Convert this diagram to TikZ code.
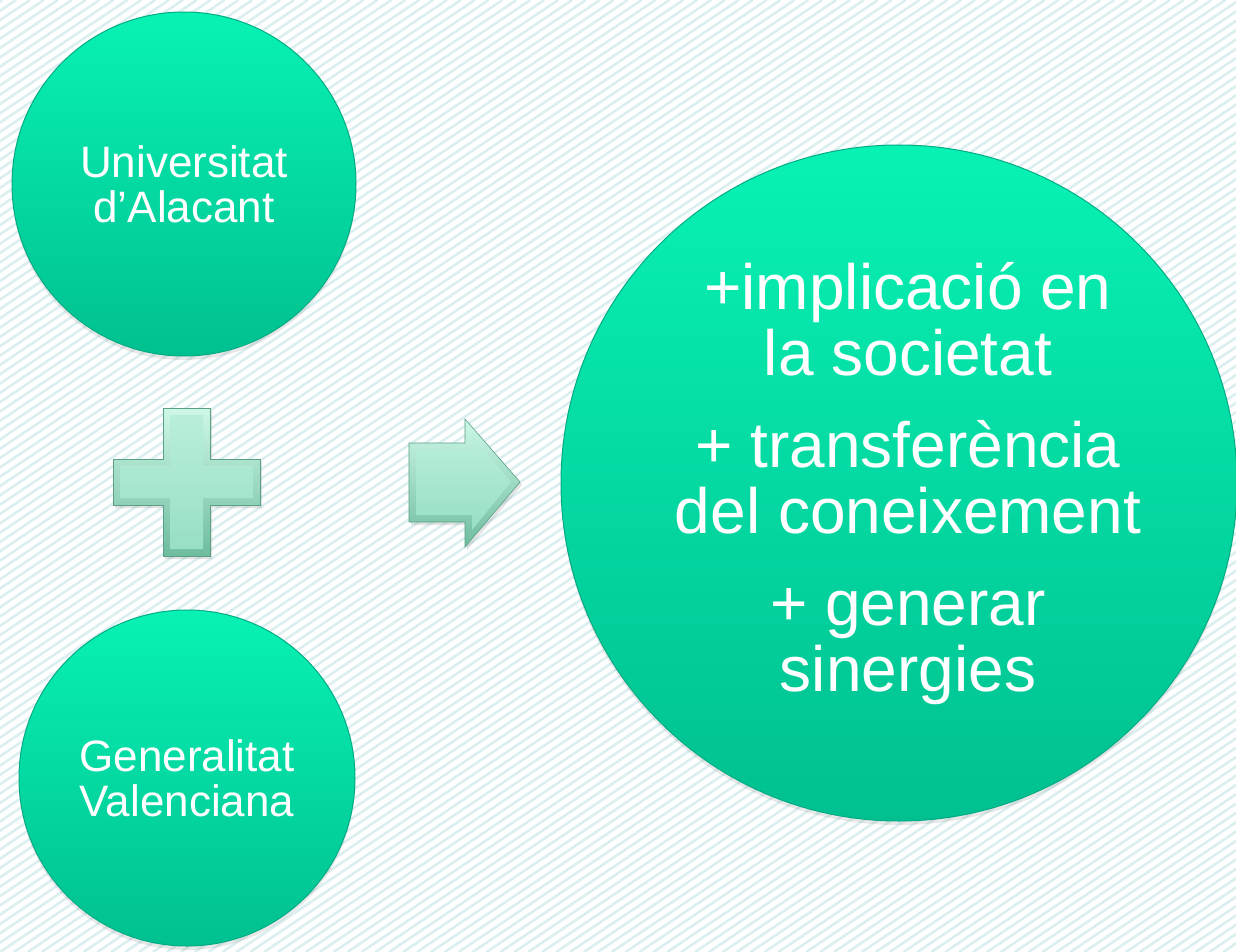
\documentclass[tikz,border=0pt]{standalone}
\usepackage{fontspec}
\setmainfont{Liberation Sans}
\usetikzlibrary{shadows}
\definecolor{ctop}{RGB}{8,242,180}
\definecolor{cbot}{RGB}{0,192,144}
\definecolor{crim}{RGB}{0,172,132}
\definecolor{stripe}{RGB}{220,239,240}
\definecolor{mint}{RGB}{158,232,204}
\definecolor{mintlight}{RGB}{206,248,232}
\definecolor{mintdark}{RGB}{110,188,158}
\definecolor{mintline}{RGB}{90,160,134}
\begin{document}
\begin{tikzpicture}[x=1pt,y=-1pt,
  bubble/.style={circle, inner sep=0pt, top color=ctop, bottom color=cbot,
    draw=crim, line width=1pt, text=white, align=center,
    drop shadow={opacity=0.18, shadow xshift=0pt, shadow yshift=-4pt}},
  smalltext/.style={font=\fontsize{44}{45}\selectfont},
  bigtext/.style={font=\fontsize{64}{66}\selectfont, text=white, align=center},
  bevelout/.style={top color=mintlight, bottom color=mintdark, draw=mintline, line width=0.6pt,
    drop shadow={opacity=0.22, shadow xshift=2pt, shadow yshift=-3pt}},
  bevelin/.style={top color=mint!72!white, bottom color=mint!96!black}]
\path[use as bounding box] (0,0) rectangle (1236,952);
\fill[white] (0,0) rectangle (1236,952);
\begin{scope}
  \clip (0,0) rectangle (1236,952);
  \foreach \i in {-110,...,92}
    \draw[stripe, line width=2.6pt] ({\i*13.9},952) -- ({\i*13.9+1420},0);
\end{scope}

% plus sign
\path[bevelout] (163,408) -- (210,408) -- (210,459) -- (260,459) -- (260,505) -- (210,505)
  -- (210,556) -- (163,556) -- (163,505) -- (113,505) -- (113,459) -- (163,459) -- cycle;
\path[bevelin] (170,415) -- (203,415) -- (203,466) -- (253,466) -- (253,498) -- (203,498)
  -- (203,549) -- (170,549) -- (170,498) -- (120,498) -- (120,466) -- (170,466) -- cycle;

% arrow
\path[bevelout] (409,443) -- (465,443) -- (465,419) -- (520,482) -- (465,547) -- (465,522)
  -- (409,522) -- cycle;
\path[bevelin] (416,450) -- (472,450) -- (472,436) -- (511,482) -- (472,530) -- (472,515)
  -- (416,515) -- cycle;

% circles
\node[bubble, smalltext, minimum size=344pt] (ua) at (184,184) {Universitat\\d’Alacant};
\node[bubble, smalltext, minimum size=336pt] (gv) at (187,778) {Generalitat\\Valenciana};
\node[bubble, minimum size=676pt,
  label={[bigtext, xshift=9pt, yshift=-1pt]center:+implicació en\\la societat\\[26pt]+ transferència\\del coneixement\\[26pt]+ generar\\sinergies}]
  (res) at (899,483) {};
\end{tikzpicture}
\end{document}
